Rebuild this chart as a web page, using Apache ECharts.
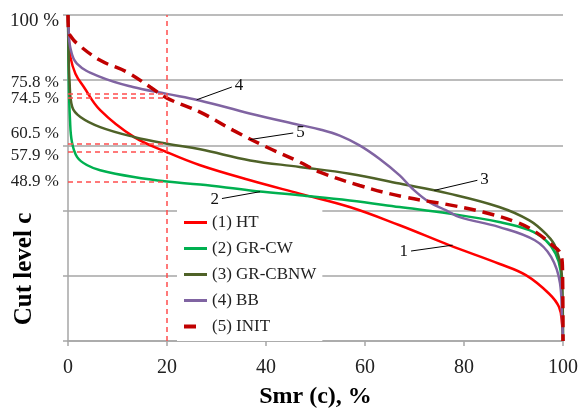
<!DOCTYPE html>
<html>
<head>
<meta charset="utf-8">
<script src="https://cdn.jsdelivr.net/npm/echarts@6/dist/echarts.min.js"></script>
<style>
  html, body { margin: 0; padding: 0; background: #fff; }
  #chart { width: 581px; height: 414px; }
</style>
</head>
<body>
<div id="chart"></div>
<script>
// [Smr %, cut level %]
const htData = [[0,100],[0.2,92],[0.5,87],[1.5,82],[3.2,77.9],[6.5,70.8],[13.3,62.6],[20,57.9],[26.7,53.9],[36.8,49.3],[46.8,45.2],[56.9,41.1],[67,35.5],[77,29.4],[87.1,23.7],[92.5,20.2],[97.2,14.5],[99.2,10.4],[99.8,5.3],[100,0]]
const gcwData = [[0,100],[0.15,80],[0.4,68],[0.8,61],[1.85,56.4],[3.9,53.9],[6.5,52.4],[13.3,50.3],[20,48.9],[26.7,48],[36.8,46.2],[46.8,44.7],[56.9,43.1],[67,41.1],[77,39.1],[87.1,36.5],[93.2,34],[96.5,30.9],[98.5,26.8],[99.5,21.7],[99.85,12.5],[100,0]]
const gcbnwData = [[0,100],[0.1,90],[0.3,80],[0.85,71.8],[2.5,68.7],[6.5,65.6],[13.3,62.6],[20,60.5],[26.7,58.8],[36.8,55.4],[46.8,53.4],[56.9,51.3],[67,48.3],[77,45.2],[87.1,41.1],[93.2,37],[96.5,32.9],[98.5,28.8],[99.8,19.6],[100,0]]
const bbData = [[0,100],[0.1,96],[0.44,90.2],[1.8,85.1],[6.5,81],[13.1,77.9],[20,75.8],[26.6,73.8],[36.7,69.8],[46.7,66.3],[50.9,64.9],[54.9,63],[58.9,60],[62.9,55.9],[67,50.8],[69.6,46.7],[73,42.6],[76.4,40.1],[79.1,38],[87,35],[94.3,30.9],[97.6,25.8],[99.4,17.7],[99.8,7.4],[100,0]]
const initData = [[0,100],[0.1,95],[0.64,93.3],[1.85,91.2],[6.5,86.1],[11.9,82.5],[16.6,77.9],[20,74.5],[26.7,70.2],[33.4,64.6],[40.1,59.5],[46.8,54.9],[50.9,51.8],[58.9,47.7],[67.6,44.3],[77.6,41.6],[84,39.5],[90.5,36.5],[94.5,33.4],[97.8,29.4],[99.5,26.8],[99.9,21.7],[100,0]]

const seriesNames = ['(1) HT', '(2) GR-CW', '(3) GR-CBNW', '(4) BB', '(5) INIT']
const seriesColors = ['#ff0000', '#00b050', '#4f6228', '#8064a2', '#c00000']

// dashed guide lines: Smr = 20 %, and the cut levels read there
const smrMark = 20
const cutLevels = [75.8, 74.5, 60.5, 57.9, 48.9]
const yLabels = [100, 75.8, 74.5, 60.5, 57.9, 48.9]

// curve number callouts: [point on curve, label end]
const callouts = [
  [[77.7, 29.4], [69.3, 27.6]],
  [[38.8, 45.8], [31.1, 43.7]],
  [[74, 46.2], [82.7, 49.3]],
  [[26, 74], [33.1, 77.9]],
  [[36.8, 61.8], [45.5, 63.8]]
]

const FONT = '"Liberation Serif", "DejaVu Serif", serif'

var chart = echarts.init(document.getElementById('chart'))

function calloutLine (i) {
  return {
    silent: true,
    symbol: ['none', 'none'],
    lineStyle: { color: '#000', type: 'solid', width: 1 },
    label: { show: true, position: 'end', distance: 3, formatter: String(i + 1), color: '#111', fontSize: 17, fontFamily: FONT },
    emphasis: { disabled: true },
    data: [[{ coord: callouts[i][0] }, { coord: callouts[i][1] }]]
  }
}

const curves = [htData, gcwData, gcbnwData, bbData, initData].map(function (d, i) {
  return {
    name: seriesNames[i],
    type: 'line',
    data: d,
    symbol: 'none',
    smooth: 0.4,
    z: 3,
    lineStyle: i === 4
      ? { color: seriesColors[i], width: 3.5, type: [12, 7] }
      : { color: seriesColors[i], width: 2.5 },
    itemStyle: { color: seriesColors[i] },
    markLine: calloutLine(i)
  }
})

const guideLines = cutLevels.map(v => [{ coord: [0, v] }, { coord: [smrMark, v] }])
guideLines.push([{ coord: [smrMark, 0] }, { coord: [smrMark, 100] }])

const labelStyle = {
  '100': 'big', '75.8': 'up1', '74.5': 'plain', '60.5': 'up2', '57.9': 'down1', '48.9': 'plain'
}

var option = {
  animation: false,
  grid: { left: 68, right: 16, top: 15, bottom: 73 },
  legend: {
    orient: 'vertical',
    left: 177,
    top: 206,
    padding: [8, 6, 6, 5],
    backgroundColor: '#fff',
    itemWidth: 23,
    itemHeight: 12,
    itemGap: 9,
    itemStyle: { opacity: 0 },
    textStyle: { fontFamily: FONT, fontSize: 17, color: '#222' },
    data: seriesNames.map(function (n, i) {
      return i === 4 ? { name: n, lineStyle: { type: [12, 40], width: 4 } } : { name: n, lineStyle: { width: 3 } }
    })
  },
  graphic: [{
    type: 'text',
    x: 25,
    y: 269,
    rotation: Math.PI / 2,
    style: { text: 'Cut level c', fontFamily: FONT, fontSize: 25, fontWeight: 'bold', fill: '#000', align: 'center', verticalAlign: 'middle' }
  }],
  xAxis: {
    type: 'value',
    min: 0,
    max: 100,
    interval: 20,
    name: 'Smr (c), %',
    nameLocation: 'middle',
    nameGap: 44,
    nameTextStyle: { fontFamily: FONT, fontSize: 24, fontWeight: 'bold', color: '#000' },
    axisLine: { lineStyle: { color: '#a6a6a6', width: 1.5 } },
    axisTick: { length: 5, lineStyle: { color: '#a6a6a6', width: 1.5 } },
    axisLabel: { margin: 17, fontFamily: FONT, fontSize: 20, color: '#222' },
    splitLine: { show: false }
  },
  yAxis: [{
    type: 'value',
    min: 0,
    max: 100,
    interval: 20,
    axisLine: { show: true, lineStyle: { color: '#a6a6a6', width: 1.5 } },
    axisTick: { show: true, length: 5, lineStyle: { color: '#a6a6a6', width: 1.5 } },
    axisLabel: { show: false },
    splitLine: { lineStyle: { color: '#a6a6a6', width: 1.5 } }
  }, {
    type: 'value',
    min: 0,
    max: 100,
    position: 'left',
    axisLine: { show: false },
    axisTick: { show: false },
    splitLine: { show: false },
    axisLabel: {
      customValues: yLabels,
      margin: 9,
      fontFamily: FONT,
      fontSize: 17,
      color: '#222',
      formatter: function (v) {
        return '{' + labelStyle[String(v)] + '|' + v + ' %}'
      },
      rich: {
        big: { fontFamily: FONT, fontSize: 19, color: '#222', padding: [12, 0, 0, 0] },
        up1: { fontFamily: FONT, fontSize: 17, color: '#222', padding: [0, 0, 23, 0] },
        up2: { fontFamily: FONT, fontSize: 17, color: '#222', padding: [0, 0, 21, 0] },
        down1: { fontFamily: FONT, fontSize: 17, color: '#222', padding: [7, 0, 0, 0] },
        plain: { fontFamily: FONT, fontSize: 17, color: '#222' }
      }
    }
  }],
  series: [{
    name: 'guides',
    type: 'line',
    data: [],
    z: 2,
    markLine: {
      silent: true,
      symbol: ['none', 'none'],
      lineStyle: { color: '#ff4d4d', type: [5, 4], width: 1.5 },
      label: { show: false },
      emphasis: { disabled: true },
      data: guideLines
    }
  }].concat(curves)
}

option && chart.setOption(option)
</script>
</body>
</html>
